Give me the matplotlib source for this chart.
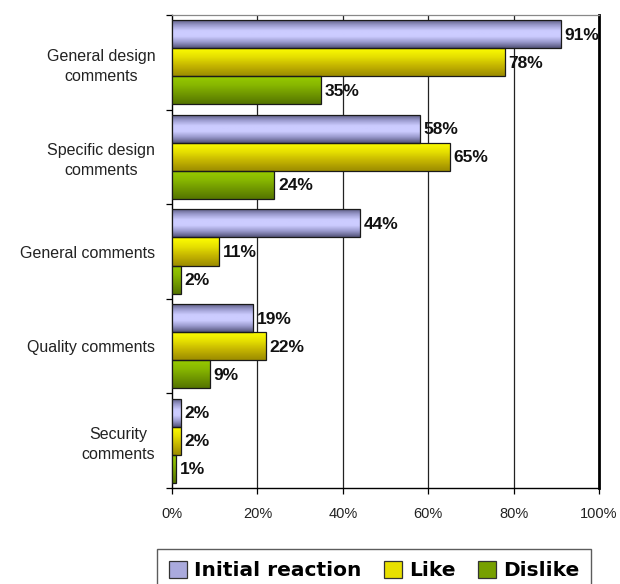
import matplotlib
matplotlib.use('Agg')
import matplotlib.pyplot as plt
import numpy as np
from matplotlib.colors import LinearSegmentedColormap
from matplotlib.patches import Patch

categories = ['General design\ncomments', 'Specific design\ncomments',
              'General comments', 'Quality comments', 'Security\ncomments']
series_names = ['Initial reaction', 'Like', 'Dislike']
initial = [91, 58, 44, 19, 2]
like = [78, 65, 11, 22, 2]
dislike = [35, 24, 2, 9, 1]
values = [initial, like, dislike]
xticks = [0, 20, 40, 60, 80, 100]

# gradients run top -> bottom of each bar
grad_colors = [
    ['#55557a', '#9999cc', '#ccccff', '#ccccff', '#9999cc', '#55557a'],
    ['#ffff00', '#e6e000', '#c2b200', '#9c8c00'],
    ['#99cc00', '#88b800', '#6f9600', '#557500'],
]
legend_colors = ['#aaaadd', '#e8e000', '#77a000']

plt.rcParams['font.family'] = ['Liberation Sans', 'DejaVu Sans']

fig = plt.figure(figsize=(6.2, 5.84), dpi=100)
ax = fig.add_axes([172 / 620, 1 - 488 / 584, 427 / 620, 473 / 584])

h = 0.296
y = np.arange(len(categories))
grad = np.linspace(0, 1, 64).reshape(-1, 1)

for k, vals in enumerate(values):
    cmap = LinearSegmentedColormap.from_list('g%d' % k, grad_colors[k])
    pos = y + (k - 1) * h
    bars = ax.barh(pos, vals, height=h, color='none', edgecolor='#1a1a1a',
                   linewidth=0.9, zorder=4)
    for b, v in zip(bars, vals):
        x0, y0 = b.get_x(), b.get_y()
        im = ax.imshow(grad, cmap=cmap, aspect='auto', zorder=3,
                       extent=[x0, x0 + b.get_width(), y0 + b.get_height(), y0])
        im.set_clip_path(b)
        ax.text(v + 0.8, y0 + b.get_height() / 2 + 0.01, '%d%%' % v, va='center',
                ha='left', fontsize=12.5, fontweight='bold', color='#111111', zorder=6)

ax.set_xlim(0, 100)
ax.set_ylim(len(categories) - 0.5, -0.5)

for g in xticks[1:-1]:
    ax.axvline(g, color='#222222', linewidth=0.9, zorder=1)

ax.set_xticks(xticks)
ax.set_xticklabels(['%d%%' % t for t in xticks], fontsize=10.5)
ax.tick_params(axis='x', direction='out', length=4, pad=10, width=0.9)

ax.set_yticks(y)
ax.set_yticklabels(categories, fontsize=11.5, multialignment='center',
                   linespacing=1.4)
ax.set_yticks(np.arange(len(categories) + 1) - 0.5, minor=True)
ax.tick_params(axis='y', which='major', length=0, pad=12)
ax.tick_params(axis='y', which='minor', direction='out', length=4, width=0.9)
for lab in ax.get_yticklabels():
    lab.set_color('#222222')
for lab in ax.get_xticklabels():
    lab.set_color('#222222')

ax.spines['top'].set_color('#888888')
ax.spines['top'].set_linewidth(0.9)
ax.spines['right'].set_linewidth(2)
ax.spines['left'].set_linewidth(1)
ax.spines['bottom'].set_linewidth(1)

handles = [Patch(facecolor=c, edgecolor='#333333', linewidth=0.9) for c in legend_colors]
fig.legend(handles, series_names, loc='upper left', bbox_to_anchor=(157 / 620, 1 - 549 / 584),
           borderaxespad=0, ncol=3, frameon=True, fancybox=False, edgecolor='#333333',
           prop={'family': 'DejaVu Sans', 'weight': 'bold', 'size': 14.5},
           handlelength=0.9, handleheight=0.9, handletextpad=0.35,
           columnspacing=1.1, borderpad=0.6)

fig.savefig('out.png', dpi=100)
